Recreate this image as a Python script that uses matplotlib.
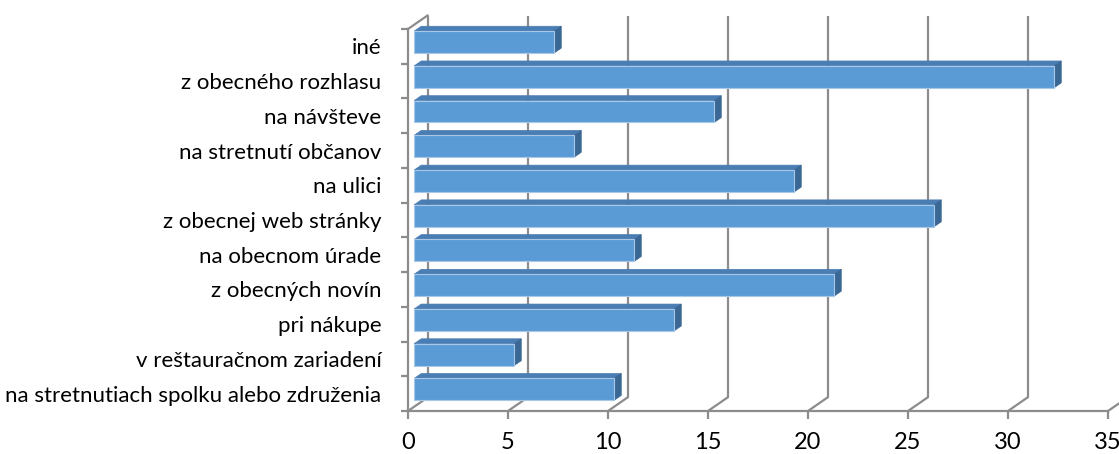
import matplotlib
matplotlib.use('Agg')
import matplotlib.pyplot as plt
from matplotlib.patches import Polygon, Rectangle

# data (bottom to top)
categories = ['na stretnutiach spolku alebo združenia', 'v reštauračnom zariadení',
              'pri nákupe', 'z obecných novín', 'na obecnom úrade',
              'z obecnej web stránky', 'na ulici', 'na stretnutí občanov',
              'na návšteve', 'z obecného rozhlasu', 'iné']
values = [10, 5, 13, 21, 11, 26, 19, 8, 15, 32, 7]
xticks = [0, 5, 10, 15, 20, 25, 30, 35]

plt.rcParams['font.family'] = ['Lato', 'DejaVu Sans']

W, H = 1119, 454
fig = plt.figure(figsize=(W / 100, H / 100), dpi=100)
# front plane: value 0 at x=408px, 35 at 1108px; categories from y=411px to 29px
ax = fig.add_axes([408 / W, (H - 411) / H, 700 / W, 382 / H])
ax.set_xlim(0, 35)
ax.set_ylim(-0.5, 10.5)

px_x = 35 / 700.0
px_y = 11 / 382.0
DX = 19.5 * px_x   # depth offset of the back wall
DY = 13.5 * px_y

grid_c = '#8c8c8c'
lw = 1.6

# back wall gridlines and floor diagonals
for v in xticks:
    ax.plot([v + DX, v + DX], [-0.5 + DY, 10.5 + DY], color=grid_c, lw=lw,
            clip_on=False, zorder=1, solid_capstyle='butt')
    ax.plot([v, v + DX], [-0.5, -0.5 + DY], color=grid_c, lw=lw,
            clip_on=False, zorder=1)
# top-left diagonal of side wall
ax.plot([0, DX], [10.5, 10.5 + DY], color=grid_c, lw=lw, clip_on=False, zorder=1)

# bars as pseudo-3D boxes
f0, f1 = 0.32, 0.68
h = 0.63
front_c = '#5b9bd5'
top_c = '#4a7db3'
side_c = '#3a6794'
ox, oy = f0 * DX, f0 * DY
ddx, ddy = (f1 - f0) * DX, (f1 - f0) * DY
for i, v in enumerate(values):
    y0 = i - h / 2 + oy
    y1 = i + h / 2 + oy
    x0 = ox
    x1 = v + ox
    top = Polygon([(x0, y1), (x1, y1), (x1 + ddx, y1 + ddy), (x0 + ddx, y1 + ddy)],
                  closed=True, facecolor=top_c, edgecolor=top_c, lw=0.5, zorder=3,
                  clip_on=False)
    side = Polygon([(x1, y0), (x1, y1), (x1 + ddx, y1 + ddy), (x1 + ddx, y0 + ddy)],
                   closed=True, facecolor=side_c, edgecolor=side_c, lw=0.5, zorder=3,
                   clip_on=False)
    front = Rectangle((x0, y0), x1 - x0, y1 - y0, facecolor=front_c,
                      edgecolor='#a9c8e8', lw=0.8, zorder=4, clip_on=False)
    ax.add_patch(top)
    ax.add_patch(side)
    ax.add_patch(front)

# axes
for s in ['top', 'right']:
    ax.spines[s].set_visible(False)
for s in ['left', 'bottom']:
    ax.spines[s].set_color(grid_c)
    ax.spines[s].set_linewidth(lw)
    ax.spines[s].set_zorder(2)

ax.set_xticks(xticks)
ax.set_xticklabels([str(t) for t in xticks], fontsize=17)
ax.tick_params(axis='x', length=6, width=lw, color=grid_c, pad=9)

ax.set_yticks([i - 0.5 for i in range(12)])
ax.set_yticklabels([])
ax.set_yticks(range(len(categories)), minor=True)
ax.set_yticklabels(categories, minor=True, fontsize=16)
ax.tick_params(axis='y', which='major', length=5, width=lw, color=grid_c)
ax.tick_params(axis='y', which='minor', length=0, pad=19)

fig.savefig('out.png', dpi=100)
